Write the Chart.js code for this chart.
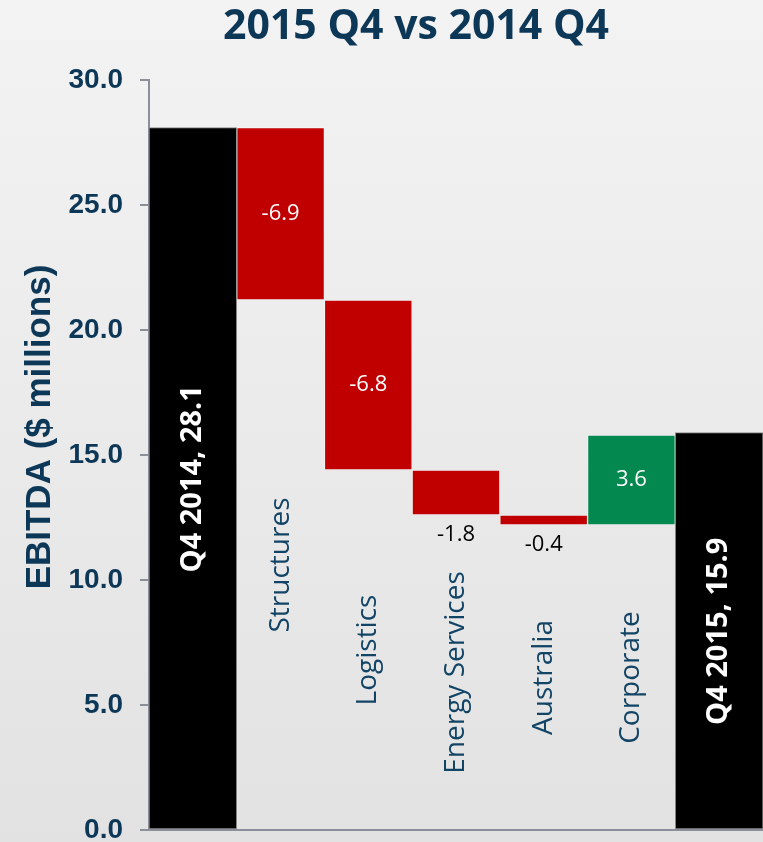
<!DOCTYPE html>
<html>
<head>
<meta charset="utf-8">
<script src="https://cdn.jsdelivr.net/npm/chart.js@4.4.1/dist/chart.umd.min.js"></script>
<style>
  html, body { margin: 0; padding: 0; background: #e6e6e6; }
  canvas { display: block; }
</style>
</head>
<body>
<canvas id="chart" width="763" height="842"></canvas>
<script>
// waterfall: start total, segment changes, end total
const categories = ['Q4 2014', 'Structures', 'Logistics', 'Energy Services', 'Australia', 'Corporate', 'Q4 2015'];
const startValue = 28.1;
const changes = [-6.9, -6.8, -1.8, -0.4, 3.6];
const endValue = 15.9;
const yTicks = [0, 5, 10, 15, 20, 25, 30];

const titleText = '2015 Q4 vs 2014 Q4';
const yTitleText = 'EBITDA ($ millions)';

const navy = '#0d3757';
const axisGray = '#8a8f99';

// floating bars [low, high] from running totals
const bars = [[0, startValue]];
let running = startValue;
changes.forEach(c => {
  const next = Math.round((running + c) * 10) / 10;
  bars.push([Math.min(running, next), Math.max(running, next)]);
  running = next;
});
bars.push([0, endValue]);

const barColors = categories.map((_, i) => {
  if (i === 0 || i === categories.length - 1) return '#000000';
  return changes[i - 1] < 0 ? '#c00000' : '#03884f';
});
const borderColors = barColors.map(c => c === '#000000' ? '#8c8c8c' : 'rgba(255,255,255,0.35)');

const bgPlugin = {
  id: 'bg',
  beforeDraw(chart) {
    const { ctx, width, height } = chart;
    const g = ctx.createLinearGradient(0, 0, 0, height);
    g.addColorStop(0, '#f3f3f3');
    g.addColorStop(1, '#e2e2e2');
    ctx.save();
    ctx.fillStyle = g;
    ctx.fillRect(0, 0, width, height);
    ctx.restore();
  }
};

// chart title and y axis title, placed like the original slide
const titlesPlugin = {
  id: 'titles',
  afterDraw(chart) {
    const { ctx } = chart;
    ctx.save();
    ctx.textAlign = 'center';
    ctx.textBaseline = 'middle';
    ctx.fillStyle = navy;
    ctx.font = 'bold 41px "Open Sans"';
    ctx.fillText(titleText, 416, 27);
    ctx.translate(40, 427);
    ctx.rotate(-Math.PI / 2);
    ctx.font = 'bold 35px "Liberation Sans"';
    ctx.fillText(yTitleText, 0, 0);
    ctx.restore();
  }
};

const labelPlugin = {
  id: 'wfLabels',
  afterDatasetsDraw(chart) {
    const { ctx } = chart;
    const y = chart.scales.y;
    const meta = chart.getDatasetMeta(0);
    meta.data.forEach((bar, i) => {
      const [lo, hi] = bars[i];
      ctx.save();
      ctx.textAlign = 'center';
      ctx.textBaseline = 'middle';
      if (i === 0 || i === categories.length - 1) {
        ctx.translate(bar.x, y.getPixelForValue(hi / 2));
        ctx.rotate(-Math.PI / 2);
        ctx.font = 'bold 29px "Open Sans"';
        ctx.fillStyle = '#ffffff';
        ctx.fillText(categories[i] + ', ' + hi.toFixed(1), 0, 0);
      } else {
        // category name sits in the middle of the empty base below the bar
        ctx.save();
        ctx.translate(bar.x, y.getPixelForValue(lo / 2));
        ctx.rotate(-Math.PI / 2);
        ctx.font = '28px "Open Sans"';
        ctx.fillStyle = '#124466';
        ctx.fillText(categories[i], 0, 0);
        ctx.restore();

        const top = y.getPixelForValue(hi);
        const bottom = y.getPixelForValue(lo);
        const txt = changes[i - 1].toFixed(1);
        ctx.font = '22px "Open Sans"';
        if (bottom - top > 55) {
          ctx.fillStyle = '#ffffff';
          ctx.fillText(txt, bar.x, (top + bottom) / 2);
        } else {
          ctx.fillStyle = '#000000';
          ctx.fillText(txt, bar.x, bottom + 20);
        }
      }
      ctx.restore();
    });
  }
};

function draw() {
  new Chart(document.getElementById('chart').getContext('2d'), {
    type: 'bar',
    data: {
      labels: categories,
      datasets: [{
        data: bars,
        backgroundColor: barColors,
        borderColor: borderColors,
        borderWidth: 1,
        borderSkipped: false,
        barPercentage: 1,
        categoryPercentage: 1
      }]
    },
    options: {
      responsive: false,
      animation: false,
      layout: { padding: { left: 0, right: 0, top: 80, bottom: 12 } },
      plugins: {
        legend: { display: false },
        tooltip: { enabled: false },
        title: { display: false }
      },
      scales: {
        x: {
          grid: { display: false },
          border: { display: true, color: axisGray, width: 2 },
          ticks: { display: false },
          afterFit(axis) { axis.height = 0; }
        },
        y: {
          min: 0,
          max: 30,
          afterBuildTicks(axis) {
            axis.ticks = yTicks.map(v => ({ value: v }));
          },
          afterFit(axis) {
            axis.width = 149;
            axis.paddingTop = 0;
            axis.paddingBottom = 0;
          },
          grid: {
            drawOnChartArea: false,
            drawTicks: true,
            tickLength: 9,
            color: axisGray,
            lineWidth: 2
          },
          border: { display: true, color: axisGray, width: 2 },
          ticks: {
            color: navy,
            padding: 17,
            font: { family: 'Liberation Sans', size: 28, weight: 'bold' },
            callback: v => Number(v).toFixed(1)
          }
        }
      }
    },
    plugins: [bgPlugin, labelPlugin, titlesPlugin]
  });
}

Promise.all([
  document.fonts.load('bold 41px "Open Sans"'),
  document.fonts.load('28px "Open Sans"'),
  document.fonts.load('bold 28px "Liberation Sans"')
]).then(draw, draw);
</script>
</body>
</html>
